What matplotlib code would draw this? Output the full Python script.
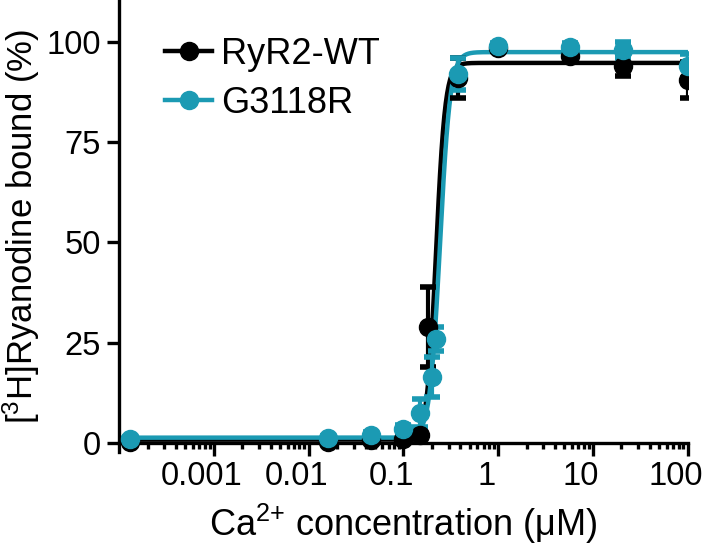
import numpy as np
import matplotlib
matplotlib.use("Agg")
import matplotlib.pyplot as plt
from matplotlib.ticker import LogLocator, FixedLocator, NullFormatter
from matplotlib.transforms import ScaledTranslation

plt.rcParams['font.family'] = ['Liberation Sans', 'DejaVu Sans']
plt.rcParams['mathtext.fontset'] = 'custom'
plt.rcParams['mathtext.rm'] = 'Liberation Sans'
plt.rcParams['mathtext.default'] = 'regular'

# Ca2+ concentrations (uM) and binding (% of max), mean and SEM
wt_conc = [0.00013, 0.016, 0.045, 0.1, 0.15, 0.18, 0.38, 1.0, 5.7, 21, 100]
wt_mean = [0.3, 0.3, 0.8, 1.0, 2.0, 29, 91, 98.5, 96.5, 94, 90.5]
wt_sem = [0.3, 0.3, 0.4, 0.5, 0.8, 10, 5, 0.8, 1.2, 2.5, 4.5]

mut_conc = [0.00013, 0.016, 0.045, 0.1, 0.15, 0.2, 0.22, 0.38, 1.0, 5.7, 21, 100]
mut_mean = [1.0, 1.2, 2.0, 3.5, 7.5, 16.5, 26, 92, 99, 98.8, 98, 94]
mut_sem = [0.4, 0.5, 0.6, 1.0, 3.5, 5, 3, 4, 0.8, 1.0, 2.0, 3.0]

# fitted Hill parameters: bottom, top, EC50 (uM), slope
wt_fit = (0.8, 94.8, 0.221, 9.0)
mut_fit = (1.3, 97.5, 0.243, 8.0)

x_ticks = [0.001, 0.01, 0.1, 1, 10, 100]
x_ticklabels = ["0.001", "0.01", "0.1", "1", "10", "100"]

series = [
    ("RyR2-WT", "black", wt_conc, wt_mean, wt_sem, wt_fit),
    ("G3118R", "#1b9ab3", mut_conc, mut_mean, mut_sem, mut_fit),
]

xs = np.logspace(-4, 2, 800)

fig = plt.figure(figsize=(7.09, 5.48), dpi=100)
ax = fig.add_axes([0.168, 0.175, 0.802, 0.825])

for label, color, conc, mean, sem, (bottom, top, ec50, hill) in series:
    fit = bottom + (top - bottom) / (1 + 10 ** ((np.log10(ec50) - np.log10(xs)) * hill))
    ax.plot(xs, fit, color=color, linewidth=3.2, zorder=2)
    ax.errorbar(conc, mean, yerr=sem, fmt='none', ecolor=color,
                elinewidth=3, capsize=6, capthick=4, zorder=3)
    ax.plot(conc, mean, 'o', color=color, markersize=13, zorder=4)
    # legend proxy
    ax.plot([], [], '-o', color=color, linewidth=3.2, markersize=13, label=label)

ax.set_xscale('log')
ax.set_xlim(1e-4, 100)
ax.set_ylim(-2.3, 110.5)

ax.spines['top'].set_visible(False)
ax.spines['right'].set_visible(False)
ax.spines['bottom'].set_position(('data', 0))
for s in ('left', 'bottom'):
    ax.spines[s].set_linewidth(2.4)

ax.yaxis.set_major_locator(FixedLocator([0, 25, 50, 75, 100]))
ax.xaxis.set_major_locator(FixedLocator(x_ticks))
ax.set_xticklabels(x_ticklabels)
ax.xaxis.set_minor_locator(LogLocator(base=10, subs=np.arange(2, 10), numticks=20))
ax.xaxis.set_minor_formatter(NullFormatter())
ax.tick_params(axis='both', which='major', length=9, width=2.4, labelsize=23.5, pad=4)
ax.tick_params(axis='x', which='minor', length=4.5, width=2.4)

# the x tick labels sit a little left of their ticks in the original
shift = ScaledTranslation(-0.12, 0, fig.dpi_scale_trans)
for lbl in ax.get_xticklabels():
    lbl.set_transform(lbl.get_transform() + shift)

ax.set_xlabel("Ca$^{2{+}}$ concentration (μM)", fontsize=26, labelpad=7)
ax.set_ylabel("[$^{3}$H]Ryanodine bound (%)", fontsize=25, labelpad=3)

ax.legend(loc='upper left', bbox_to_anchor=(0.233, 0.933), bbox_transform=fig.transFigure,
          frameon=False, fontsize=26, handlelength=1.3, handletextpad=0.25,
          labelspacing=0.39, borderaxespad=0, borderpad=0)

fig.savefig("out.png", dpi=100)
